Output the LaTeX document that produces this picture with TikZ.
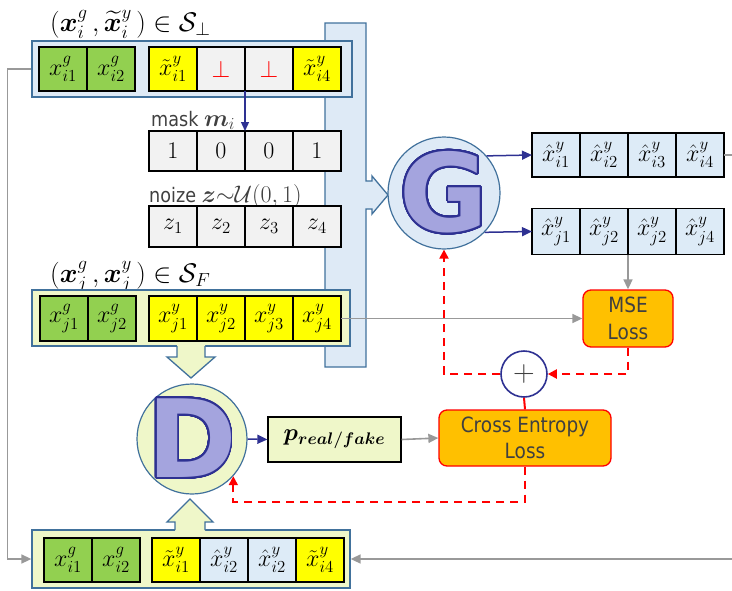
\RequirePackage{fix-cm}
\documentclass[tikz,border=0pt]{standalone}
\usepackage{amsmath,amssymb}
\usepackage{bm}
\usepackage{fontspec}
\usepackage{contour}
\usetikzlibrary{arrows.meta}

\newfontfamily\tahoma{DejaVu Sans}[FakeStretch=0.88]
\newfontfamily\letterfont{DejaVu Sans}
\contourlength{1.8pt}
\contournumber{48}

\definecolor{panelblue}{HTML}{DEEAF6}
\definecolor{edgeblue}{HTML}{41719C}
\definecolor{cgreen}{HTML}{92D050}
\definecolor{cyellow}{HTML}{FFFF00}
\definecolor{cgray}{HTML}{F2F2F2}
\definecolor{outblue}{HTML}{DDEBF7}
\definecolor{paleyellow}{HTML}{EFF7C9}
\definecolor{lavender}{HTML}{A4A4DE}
\definecolor{gnavy}{HTML}{2E3192}
\definecolor{lossorange}{HTML}{FFC000}
\definecolor{darktext}{HTML}{404040}
\definecolor{loopgray}{HTML}{999999}

\begin{document}
\begin{tikzpicture}[x=1pt, y=-1pt,
  cell/.style={draw=black, line width=1.3pt, minimum width=48pt, minimum height=44pt,
    inner sep=0pt, outer sep=0pt, font=\fontsize{24}{26}\selectfont},
  bitcell/.style={cell, fill=cgray, minimum height=40pt},
  panel/.style={draw=edgeblue, line width=1.3pt},
  framebox/.style={panel, inner sep=0pt, minimum width=318pt, minimum height=56pt},
  setlabel/.style={anchor=base west, inner sep=0pt, font=\fontsize{27}{30}\selectfont},
  rowlabel/.style={anchor=base west, inner sep=0pt, text=darktext, font=\tahoma\fontsize{20}{24}\selectfont},
  netcircle/.style={circle, draw=edgeblue, line width=1.2pt, inner sep=0pt, minimum size=112pt},
  netletter/.style={inner sep=0pt, text=lavender, font=\letterfont\bfseries\fontsize{108}{108}\selectfont},
  lossbox/.style={draw=red, line width=1.3pt, fill=lossorange, rounded corners=8pt, align=center,
    text=darktext, font=\tahoma\fontsize{21}{26.5}\selectfont},
  genarrow/.style={gnavy, line width=1.5pt, -{Triangle[length=10pt,width=9pt]}},
  flowarrow/.style={loopgray, line width=1.6pt, -{Triangle[length=10pt,width=9pt]}},
  backprop/.style={red, line width=2pt, dash pattern=on 8pt off 6pt, -{Triangle[length=9pt,width=9pt]}}
]
  \useasboundingbox (0,0) rectangle (732,590);

  % input bar of G
  \draw[panel, fill=panelblue] (325,23) -- (366,23) -- (366,181) -- (372,181) -- (372,176)
    -- (388,195) -- (372,214) -- (372,209) -- (366,209) -- (366,367) -- (325,367) -- cycle;

  % set S_perp
  \node[setlabel] (lperp) at (50,31) {$(\bm{x}^{g}_{i}\,,\widetilde{\bm{x}}^{y}_{i}\,)\in\mathcal{S}_{\perp}$};
  \node[framebox, fill=panelblue, minimum width=320pt] (sperp) at (192,69) {};
  \node[cell, fill=cgreen] (pg1) at (63,69) {$x^{g}_{i1}$};
  \node[cell, fill=cgreen] (pg2) at (111,69) {$x^{g}_{i2}$};
  \foreach \idx/\col/\lab in {1/cyellow/\tilde{x}^{y}_{i1}, 2/cgray/\color{red}\perp,
      3/cgray/\color{red}\perp, 4/cyellow/\tilde{x}^{y}_{i4}}
    \node[cell, fill=\col] (pv\idx) at (125+48*\idx,69) {$\lab$};

  % mask and noise
  \node[rowlabel] (lmask) at (151,126) {mask {\fontsize{24}{24}\selectfont$\bm{m}_{i}$}};
  \foreach \idx/\val in {1/1,2/0,3/0,4/1}
    \node[bitcell] (mk\idx) at (125+48*\idx,151) {$\val$};
  \node[rowlabel] (lnoise) at (149,202) {noize {\fontsize{24}{24}\selectfont$\bm{z}{\sim}\mathcal{U}(0,1)$}};
  \foreach \idx in {1,...,4}
    \node[bitcell, minimum height=41pt] (nz\idx) at (125+48*\idx,226.5) {$z_{\idx}$};
  \draw[gnavy, line width=1.3pt, -{Triangle[length=9pt,width=8pt]}] (pv3.south west) -- (mk3.north west);

  % set S_F
  \node[setlabel] (lfake) at (50,282) {$(\bm{x}^{g}_{j}\,,\bm{x}^{y}_{j}\,)\in\mathcal{S}_{F}$};
  \node[framebox, fill=paleyellow] (sf) at (191,318) {};
  \node[cell, fill=cgreen, minimum height=45pt] (fg1) at (64,318.5) {$x^{g}_{j1}$};
  \node[cell, fill=cgreen, minimum height=45pt] (fg2) at (112,318.5) {$x^{g}_{j2}$};
  \foreach \idx in {1,...,4}
    \node[cell, fill=cyellow, minimum height=45pt] (fy\idx) at (125+48*\idx,318.5) {$x^{y}_{j\idx}$};

  % mixed set for D
  \node[framebox, fill=paleyellow, minimum height=58pt] (mix) at (191,559) {};
  \node[cell, fill=cgreen] (mg1) at (68,560) {$x^{g}_{i1}$};
  \node[cell, fill=cgreen] (mg2) at (116,560) {$x^{g}_{i2}$};
  \foreach \idx/\col/\lab in {1/cyellow/\tilde{x}^{y}_{i1}, 2/outblue/\hat{x}^{y}_{i2},
      3/outblue/\hat{x}^{y}_{i2}, 4/cyellow/\tilde{x}^{y}_{i4}}
    \node[cell, fill=\col] (my\idx) at (128+48*\idx,560) {$\lab$};

  % block arrows into D
  \fill[paleyellow] (177,344) -- (205,344) -- (205,357) -- (215,357) -- (191,378) -- (167,357) -- (177,357) -- cycle;
  \draw[panel] (177,346) -- (177,357) -- (167,357) -- (191,378) -- (215,357) -- (205,357) -- (205,346);
  \fill[paleyellow] (175,532) -- (175,522) -- (167,522) -- (190,499) -- (213,522) -- (205,522) -- (205,532) -- cycle;
  \draw[panel] (175,530) -- (175,522) -- (167,522) -- (190,499) -- (213,522) -- (205,522) -- (205,530);

  % G and D
  \node[netcircle, fill=panelblue] (gen) at (444,193) {};
  \node[netletter] (gtext) at (gen) {\contour{gnavy}{G}};
  \node[netcircle, fill=paleyellow, minimum size=110pt] (disc) at (192,439) {};
  \node[netletter] (dtext) at (disc) {\contour{gnavy}{D}};

  % outputs of G
  \foreach \idx in {1,...,4}
    \node[cell, fill=outblue] (oi\idx) at (508+48*\idx,155) {$\hat{x}^{y}_{i\idx}$};
  \foreach \idx/\sub in {1/1,2/2,3/2,4/4}
    \node[cell, fill=outblue, minimum height=46pt] (oj\idx) at (508+48*\idx,231.5) {$\hat{x}^{y}_{j\sub}$};

  % losses
  \node[lossbox, minimum width=90pt, minimum height=57pt] (mse) at (628,318.5) {MSE\\Loss};
  \node[lossbox, minimum width=172pt, minimum height=56pt] (cel) at (525,438) {Cross Entropy\\Loss};
  \node[draw=black, line width=1.3pt, fill=paleyellow, minimum width=133pt, minimum height=45pt,
    font=\fontsize{24}{26}\selectfont] (prob) at (334.5,439.5) {$\bm{p}_{\bm{real/fake}}$};
  \node[circle, draw=gnavy, line width=1.6pt, fill=white, minimum size=46pt, inner sep=0pt,
    text=darktext, font=\fontsize{30}{30}\selectfont] (plus) at (524,374) {$+$};

  % forward connectors
  \draw[genarrow] (gen.41) -- (oi1.west);
  \draw[genarrow] (gen.-44) -- (oj1.west);
  \draw[genarrow] (disc.east) -- (prob.west);
  \draw[flowarrow] (prob.east) -- (cel.west);
  \draw[flowarrow] (fy4.east) -- (mse.west);
  \draw[flowarrow] (oj3.south west) -- (oj3.south west |- mse.north);
  \draw[flowarrow] (sperp.west) -- ++(-24,0) |- (mix.west);
  \draw[flowarrow] (oi4.east) -- ++(30,0) |- (mix.east);

  % loss feedback
  \draw[backprop] (mse.south) |- (plus.east);
  \draw[backprop] (plus.west) -| (gen.south);
  \draw[red, line width=2pt] (plus.south) -- (cel.north);
  \draw[backprop] (cel.south) -- ++(0,35) -| (disc.-42);
\end{tikzpicture}
\end{document}
